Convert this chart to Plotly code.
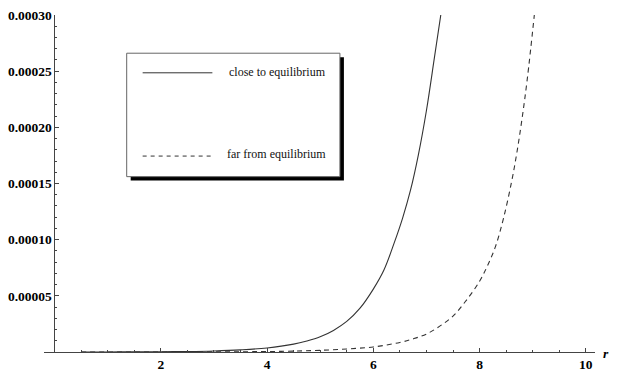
import plotly.graph_objects as go

# ---- data ----
r_close = [0.5, 1.0, 1.5, 2.0, 2.5, 3.0, 3.5, 4.0, 4.5, 4.75, 5.0, 5.25, 5.5, 5.75, 6.0, 6.2,
           6.4, 6.55, 6.7, 6.85, 7.0, 7.15, 7.27]
y_close = [0.00000003, 0.00000006, 0.00000012, 0.00000024, 0.00000047, 0.00000095,
           0.0000019, 0.0000036, 0.0000070, 0.0000098, 0.0000135, 0.0000192, 0.0000272,
           0.0000390, 0.000056, 0.000073, 0.000098, 0.000119, 0.000144, 0.000176,
           0.000215, 0.000262, 0.000300]

r_far = [0.5, 1.0, 1.5, 2.0, 2.5, 3.0, 3.5, 4.0, 4.5, 5.0, 5.5, 6.0, 6.5, 6.75, 7.0,
         7.25, 7.5, 7.75, 8.0, 8.15, 8.3, 8.45, 8.6, 8.7, 8.8, 8.9, 9.03]
y_far = [0.0, 0.00000001, 0.00000002, 0.00000004, 0.00000007, 0.00000012, 0.00000022,
         0.0000004, 0.0000008, 0.0000015, 0.0000027, 0.0000045, 0.0000085, 0.0000117,
         0.000016, 0.000023, 0.000032, 0.000046, 0.000063, 0.000077, 0.000094,
         0.000119, 0.000151, 0.000177, 0.000208, 0.000244, 0.000300]

x_ticks = [2, 4, 6, 8, 10]
x_ticktext = ["2", "4", "6", "8", "10"]
y_ticks = [0.00005, 0.00010, 0.00015, 0.00020, 0.00025, 0.00030]
y_ticktext = ["0.00005", "0.00010", "0.00015", "0.00020", "0.00025", "0.00030"]

legend_labels = ["close to equilibrium", "far from equilibrium"]

# ---- layout geometry (pixels) ----
W, H = 620, 382
L, R, T, B = 42, 25, 8, 30
PW, PH = W - L - R, H - T - B

def px(p):
    return (p - L) / PW

def py(p):
    return (H - B - p) / PH

SERIF = "Liberation Serif"
line_col = "#333333"
fig = go.Figure()
fig.add_trace(go.Scatter(x=r_close, y=y_close, mode="lines",
                         line=dict(color=line_col, width=1.1, shape="spline", smoothing=1.0),
                         name=legend_labels[0], showlegend=False))
fig.add_trace(go.Scatter(x=r_far, y=y_far, mode="lines",
                         line=dict(color=line_col, width=1.1, dash="5px,4px", shape="spline", smoothing=1.0),
                         name=legend_labels[1], showlegend=False))

tick_font = dict(family=SERIF, size=13.5, color="black", weight="bold")
axis_col = "#444444"

fig.update_layout(
    width=W, height=H,
    margin=dict(l=L, r=R, t=T, b=B, pad=0),
    paper_bgcolor="white", plot_bgcolor="white",
    font=dict(family=SERIF),
    xaxis=dict(range=[-0.197, 10.172], showgrid=False, zeroline=False,
               showline=True, linecolor=axis_col, linewidth=1,
               ticks="inside", ticklen=4, tickcolor=axis_col, tickwidth=1,
               tickvals=x_ticks, ticktext=x_ticktext, tickfont=tick_font,
               minor=dict(dtick=0.5, tick0=0, ticks="inside", ticklen=2,
                          tickcolor=axis_col, showgrid=False)),
    yaxis=dict(range=[0, 0.0003], showgrid=False, zeroline=False,
               anchor="free", position=px(52.5),
               showline=True, linecolor=axis_col, linewidth=1,
               ticks="inside", ticklen=4, tickcolor=axis_col, tickwidth=1,
               tickvals=y_ticks, ticktext=y_ticktext, tickfont=tick_font,
               minor=dict(dtick=0.00001, tick0=0, ticks="inside", ticklen=2,
                          tickcolor=axis_col, showgrid=False)),
)

# axis label r
fig.add_annotation(x=px(601), y=py(354), xref="paper", yref="paper", text="<i>r</i>",
                   showarrow=False, xanchor="left", yanchor="middle",
                   font=dict(family=SERIF, size=13.5, color="black", weight="bold"))

# legend box with shadow
bx0, by0, bx1, by1 = 125, 47, 339, 173
fig.add_shape(type="rect", xref="paper", yref="paper",
              x0=px(bx0 + 4), x1=px(bx1 + 4), y0=py(by1 + 4), y1=py(by0 + 4),
              line=dict(width=0), fillcolor="black", layer="above")
fig.add_shape(type="rect", xref="paper", yref="paper",
              x0=px(bx0), x1=px(bx1), y0=py(by1), y1=py(by0),
              line=dict(width=1, color="#666666"), fillcolor="white", layer="above")
fig.add_shape(type="line", xref="paper", yref="paper",
              x0=px(141), x1=px(211), y0=py(67), y1=py(67),
              line=dict(width=1, color=line_col), layer="above")
fig.add_shape(type="line", xref="paper", yref="paper",
              x0=px(141), x1=px(211), y0=py(152), y1=py(152),
              line=dict(width=1, color=line_col, dash="4px,4px"), layer="above")
leg_font = dict(family=SERIF, size=12, color="#111111")
fig.add_annotation(x=px(226), y=py(66), xref="paper", yref="paper", text=legend_labels[0],
                   showarrow=False, xanchor="left", yanchor="middle", font=leg_font)
fig.add_annotation(x=px(224), y=py(150), xref="paper", yref="paper", text=legend_labels[1],
                   showarrow=False, xanchor="left", yanchor="middle", font=leg_font)

fig.write_html("out.html")
